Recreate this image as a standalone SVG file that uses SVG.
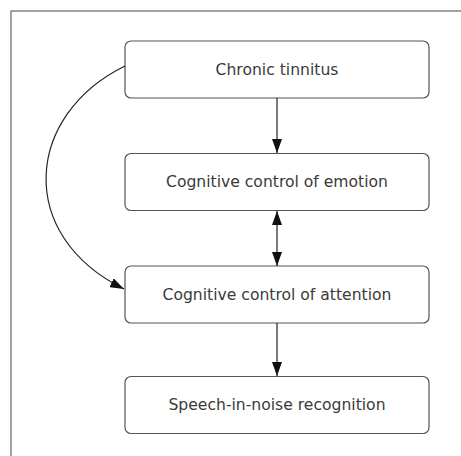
<svg xmlns="http://www.w3.org/2000/svg" width="461" height="456" viewBox="0 0 461 456">
<style>
.box{fill:#fff;stroke:#555;stroke-width:1.2}
.lbl{font-family:"DejaVu Sans","Liberation Sans",sans-serif;font-size:15.6px;fill:#3a3a3a;text-anchor:middle;dominant-baseline:central;font-variant-ligatures:none}
.edge{fill:none;stroke:#222;stroke-width:1.2}
</style>
<defs>
<marker id="ah" viewBox="0 0 14 10" refX="14" refY="5" markerWidth="14" markerHeight="10" markerUnits="userSpaceOnUse" orient="auto-start-reverse">
<path d="M0,0 L14,5 L0,10 Z" fill="#111"/>
</marker>
</defs>
<rect x="0" y="0" width="461" height="456" fill="#fff"/>
<rect x="11" y="11" width="470" height="470" fill="none" stroke="#666" stroke-width="1.2"/>
<g id="n1"><rect class="box" x="125" y="41" width="304" height="57" rx="6"/><text class="lbl" x="277" y="69.5">Chronic tinnitus</text></g>
<g id="n2"><rect class="box" x="125" y="153.5" width="304" height="57" rx="6"/><text class="lbl" x="277" y="182">Cognitive control of emotion</text></g>
<g id="n3"><rect class="box" x="125" y="266" width="304" height="57" rx="6"/><text class="lbl" x="277" y="294.5">Cognitive control of attention</text></g>
<g id="n4"><rect class="box" x="125" y="376.5" width="304" height="57" rx="6"/><text class="lbl" x="277" y="405">Speech-in-noise recognition</text></g>
<g id="edges">
<line class="edge" x1="277" y1="98" x2="277" y2="153" marker-end="url(#ah)"/>
<line class="edge" x1="277" y1="211" x2="277" y2="266" marker-start="url(#ah)" marker-end="url(#ah)"/>
<line class="edge" x1="277" y1="323" x2="277" y2="376" marker-end="url(#ah)"/>
<path class="edge" d="M125,66 C25,115 15,235 124,289" marker-end="url(#ah)"/>
</g>
</svg>
